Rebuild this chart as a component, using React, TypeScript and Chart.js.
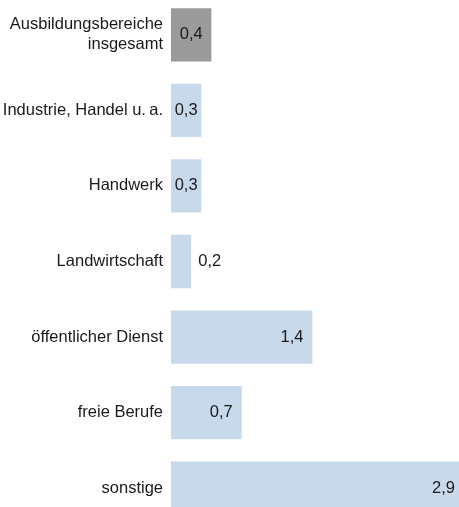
import React, { useEffect, useRef } from "react";
import { Chart, registerables } from "chart.js";

Chart.register(...registerables);

const categories: (string | string[])[] = [
  ["Ausbildungsbereiche", "insgesamt"],
  "Industrie, Handel u.\u2009a.",
  "Handwerk",
  "Landwirtschaft",
  "öffentlicher Dienst",
  "freie Berufe",
  "sonstige",
];
const values: number[] = [0.4, 0.3, 0.3, 0.2, 1.4, 0.7, 2.9];
const barColors: string[] = [
  "#9b9b9b",
  "#c9d9ec",
  "#c9d9ec",
  "#c9d9ec",
  "#c9d9ec",
  "#c9d9ec",
  "#c9d9ec",
];

const FONT = "'Liberation Sans', Arial, Helvetica, sans-serif";
const FONT_SIZE = 16.5;

const valueLabels = {
  id: "valueLabels",
  afterDatasetsDraw(chart: any) {
    const ctx = chart.ctx;
    const meta = chart.getDatasetMeta(0);
    ctx.save();
    ctx.font = `${FONT_SIZE}px ${FONT}`;
    ctx.fillStyle = "#1a1a1a";
    ctx.textBaseline = "middle";
    meta.data.forEach((el: any, i: number) => {
      const txt = values[i].toFixed(1).replace(".", ",");
      const w = ctx.measureText(txt).width;
      const start = Math.min(el.base, el.x);
      const end = Math.max(el.base, el.x);
      const bw = end - start;
      if (bw >= w + 18) {
        ctx.textAlign = "right";
        ctx.fillText(txt, end - 9, el.y);
      } else if (bw >= w + 6) {
        ctx.textAlign = "center";
        ctx.fillText(txt, (start + end) / 2, el.y);
      } else {
        ctx.textAlign = "left";
        ctx.fillText(txt, end + 7, el.y);
      }
    });
    ctx.restore();
  },
};

export default function App() {
  const ref = useRef<HTMLCanvasElement | null>(null);

  useEffect(() => {
    if (!ref.current) return;
    const chart = new Chart(ref.current, {
      type: "bar",
      data: {
        labels: categories,
        datasets: [
          {
            data: values,
            backgroundColor: barColors,
            borderWidth: 0,
            categoryPercentage: 1,
            barPercentage: 0.705,
          },
        ],
      },
      options: {
        indexAxis: "y",
        animation: false,
        responsive: false,
        maintainAspectRatio: false,
        devicePixelRatio: 1,
        layout: { padding: 0 },
        plugins: {
          legend: { display: false },
          tooltip: { enabled: false },
        },
        scales: {
          x: {
            display: false,
            min: 0,
            max: 3.0,
          },
          y: {
            grid: { display: false, drawTicks: false },
            border: { display: false },
            ticks: {
              padding: 8,
              color: "#1a1a1a",
              font: { family: FONT, size: FONT_SIZE, lineHeight: 1.22 },
            },
            afterFit: (scale: any) => {
              scale.width = 171;
              scale.paddingTop = 0;
              scale.paddingBottom = 0;
            },
          },
        },
      },
      plugins: [valueLabels],
    });
    return () => chart.destroy();
  }, []);

  return (
    <div
      style={{
        position: "fixed",
        left: 0,
        top: 0,
        width: 459,
        height: 507,
        overflow: "hidden",
        background: "#ffffff",
      }}
    >
      <canvas
        ref={ref}
        width={474}
        height={529}
        style={{ position: "absolute", left: 0, top: -3, width: 474, height: 529 }}
      />
    </div>
  );
}
